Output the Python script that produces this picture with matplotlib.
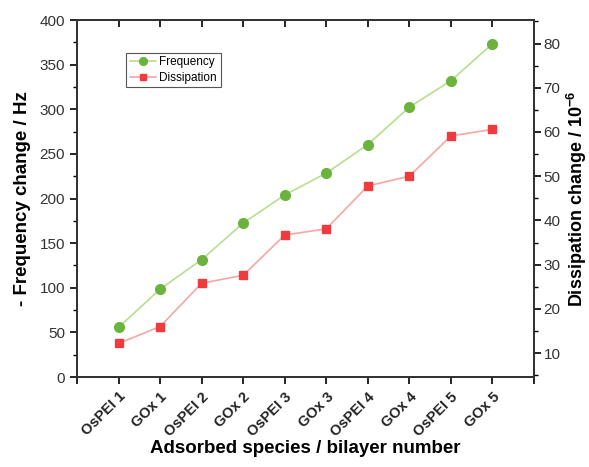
import matplotlib
matplotlib.use("Agg")
import matplotlib.pyplot as plt
from matplotlib.ticker import MultipleLocator
import numpy as np

plt.rcParams['font.family'] = ['Liberation Sans', 'DejaVu Sans']
plt.rcParams['mathtext.fontset'] = 'custom'
plt.rcParams['mathtext.rm'] = 'Liberation Sans'
plt.rcParams['mathtext.bf'] = 'Liberation Sans:bold'

labels = ['OsPEI 1', 'GOx 1', 'OsPEI 2', 'GOx 2', 'OsPEI 3',
          'GOx 3', 'OsPEI 4', 'GOx 4', 'OsPEI 5', 'GOx 5']
frequency = [55.5, 98.5, 131.5, 172.5, 204, 228.5, 260.5, 302.5, 332, 373.5]
dissipation = [12.2, 16.0, 25.8, 27.6, 36.7, 38.1, 47.8, 50.0, 59.1, 60.6]

x = np.arange(1, len(labels) + 1)

fig = plt.figure(figsize=(5.89, 4.67), dpi=100)
ax = fig.add_axes([0.1307, 0.1927, 0.7759, 0.7643])
ax2 = ax.twinx()

l1, = ax.plot(x, frequency, '-o', color='#b8de8e', lw=1.2,
              markerfacecolor='#6cb33e', markeredgecolor='#6cb33e', ms=7,
              label='Frequency')
l2, = ax2.plot(x, dissipation, '-s', color='#f7a6a6', lw=1.2,
               markerfacecolor='#ef3b3e', markeredgecolor='#ef3b3e', ms=6,
               label='Dissipation')

ax.set_xlim(0, 11)
ax.set_ylim(0, 400)
ax2.set_ylim(4.6, 85.3)

ax.set_xticks(x)
ax.set_xticklabels(labels, rotation=45, ha='right', rotation_mode='anchor',
                   fontweight='bold', fontsize=10.5, color='#222222')
ax.xaxis.set_minor_locator(MultipleLocator(11))
ax.tick_params(axis='x', which='both', direction='out', length=5, width=1.2,
               pad=4)

# top axis: inward ticks, no labels
top = ax.secondary_xaxis('top')
top.set_xticks(x)
top.tick_params(axis='x', direction='in', length=5, width=1.2,
                labeltop=False)
top.spines['top'].set_linewidth(1.3)
top.spines['top'].set_color('#333333')

ax.yaxis.set_major_locator(MultipleLocator(50))
ax.yaxis.set_minor_locator(MultipleLocator(25))
ax.tick_params(axis='y', which='major', direction='out', length=5, width=1.2,
               labelsize=11, labelcolor='#333333')
ax.tick_params(axis='y', which='minor', direction='out', length=3, width=1.0)

ax2.yaxis.set_major_locator(MultipleLocator(10))
ax2.yaxis.set_minor_locator(MultipleLocator(5))
ax2.tick_params(axis='y', which='major', direction='out', length=5, width=1.2,
                labelsize=11, labelcolor='#333333', pad=2)
ax2.tick_params(axis='y', which='minor', direction='out', length=3, width=1.0)

for a in (ax, ax2):
    for s in a.spines.values():
        s.set_linewidth(1.3)
        s.set_color('#333333')

ax.set_xlabel('Adsorbed species / bilayer number', fontsize=13.5,
              fontweight='bold', labelpad=1)
ax.set_ylabel('- Frequency change / Hz', fontsize=13.5, fontweight='bold',
              labelpad=6)
ax2.set_ylabel(r'Dissipation change / 10$^{\mathbf{-6}}$', fontsize=13,
               fontweight='bold', labelpad=3)

leg = ax.legend(handles=[l1, l2], loc='upper left',
                bbox_to_anchor=(0.095, 0.925), fontsize=8.5, frameon=True,
                fancybox=False, edgecolor='#555555', framealpha=1,
                handlelength=2.2, borderpad=0.3, labelspacing=0.3,
                handletextpad=0.3, markerscale=0.8)
leg.get_frame().set_linewidth(0.8)

fig.savefig('out.png', dpi=100)
